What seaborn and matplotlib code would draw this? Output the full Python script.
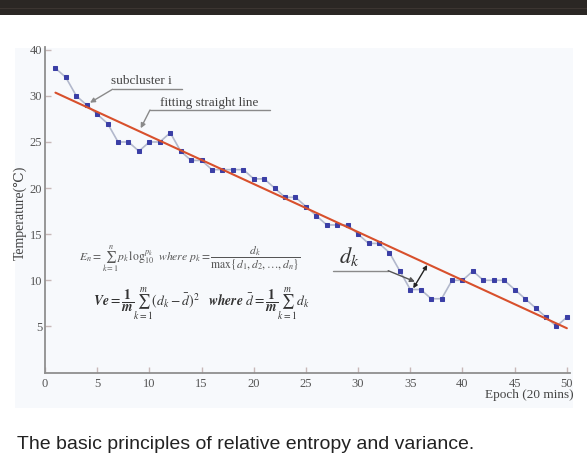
import matplotlib
matplotlib.use("Agg")
import matplotlib.pyplot as plt
from matplotlib.patches import Rectangle
import seaborn as sns
import pandas as pd

# ---------------- data ----------------
epochs = list(range(1, 51))
temperature = [33, 32, 30, 29, 28, 27, 25, 25, 24, 25,
               25, 26, 24, 23, 23, 22, 22, 22, 22, 21,
               21, 20, 19, 19, 18, 17, 16, 16, 16, 15,
               14, 14, 13, 11, 9, 9, 8, 8, 10, 10,
               11, 10, 10, 10, 9, 8, 7, 6, 5, 6]
fit_epochs = [1, 50]
fit_temperature = [30.35, 4.8]
x_ticks = [0, 5, 10, 15, 20, 25, 30, 35, 40, 45, 50]
y_ticks = [5, 10, 15, 20, 25, 30, 35]
y_tick_labels = ["5", "10", "15", "20", "25", "30", "40"]

df = pd.DataFrame({"Epoch": epochs, "Temperature": temperature})
fit_df = pd.DataFrame({"Epoch": fit_epochs, "Temperature": fit_temperature})

sns.set_style("ticks")
plt.rcParams["font.family"] = ["Liberation Serif", "DejaVu Serif"]
plt.rcParams["mathtext.fontset"] = "stix"

W, H = 587, 472
fig = plt.figure(figsize=(W / 100, H / 100), dpi=100)
fig.patch.set_facecolor("white")

def px(x0, y0, x1, y1):
    return [x0 / W, 1 - y1 / H, (x1 - x0) / W, (y1 - y0) / H]

# dark band at top and light panel
fig.add_artist(Rectangle((0, 1 - 15 / H), 1, 15 / H, transform=fig.transFigure,
                         facecolor="#2b2724", edgecolor="none", zorder=0))
fig.add_artist(Rectangle((0, 1 - 8.5 / H), 1, 1 / H, transform=fig.transFigure,
                         facecolor="#3c3531", edgecolor="none", zorder=0))
b = px(15, 48, 573, 408)
fig.add_artist(Rectangle((b[0], b[1]), b[2], b[3], transform=fig.transFigure,
                         facecolor="#f7f9fc", edgecolor="none", zorder=0))

ax = fig.add_axes(px(45, 47, 570, 372.5))
ax.set_facecolor("none")

sns.lineplot(data=df, x="Epoch", y="Temperature", ax=ax, color="#b2b8cc",
             linewidth=1.2, marker="s", markersize=2.7,
             markerfacecolor="#3b3fa6", markeredgecolor="#3b3fa6", zorder=2)
sns.lineplot(data=fit_df, x="Epoch", y="Temperature", ax=ax, color="#d8502c",
             linewidth=1.5, zorder=3)

ax.set_xlim(0, 50.3)
ax.set_ylim(0, 35.3)
ax.set_xticks(x_ticks)
ax.set_xticklabels([str(t) for t in x_ticks])
ax.set_yticks(y_ticks)
ax.set_yticklabels(y_tick_labels)
ax.tick_params(axis="x", direction="in", length=4, width=1, color="#c8b8b8",
               labelsize=9, labelcolor="#555555", pad=4)
ax.tick_params(axis="y", direction="in", length=4, width=1, color="#c8b8b8",
               labelsize=9, labelcolor="#555555", pad=2)
for s in ["top", "right"]:
    ax.spines[s].set_visible(False)
for s in ["left", "bottom"]:
    ax.spines[s].set_color("#8f8f8f")
    ax.spines[s].set_linewidth(1.3)

ax.set_xlabel("")
ax.set_ylabel("Temperature(℃)", fontsize=10, color="#444444")
ax.yaxis.set_label_coords(-0.034, 0.49)
ax.text(1.006, -0.069, "Epoch (20 mins)", transform=ax.transAxes, ha="right",
        va="center", fontsize=9.5, color="#444444")

lead = dict(color="#8a8a8a", lw=1.0)
# subcluster i
ax.plot([13.09, 6.48], [30.72, 30.72], **lead)
ax.annotate("", xy=(4.31, 29.26), xytext=(6.48, 30.72),
            arrowprops=dict(arrowstyle="-|>", color="#8a8a8a", lw=1.0,
                            mutation_scale=7, shrinkA=0, shrinkB=0))
ax.text(6.3, 31.25, "subcluster i", fontsize=9.5, color="#444444", ha="left",
        va="baseline")
# fitting straight line
ax.plot([21.55, 10.06], [28.47, 28.47], **lead)
ax.annotate("", xy=(9.17, 26.49), xytext=(10.06, 28.47),
            arrowprops=dict(arrowstyle="-|>", color="#8a8a8a", lw=1.0,
                            mutation_scale=7, shrinkA=0, shrinkB=0))
ax.text(11.0, 28.9, "fitting straight line", fontsize=9.5, color="#444444",
        ha="left", va="baseline")
# d_k
ax.plot([27.61, 32.88], [11.04, 11.04], **lead)
ax.annotate("", xy=(35.44, 9.85), xytext=(32.88, 11.04),
            arrowprops=dict(arrowstyle="-|>", color="#555555", lw=1.0,
                            mutation_scale=7, shrinkA=0, shrinkB=0))
ax.annotate("", xy=(36.62, 11.66), xytext=(35.28, 9.13),
            arrowprops=dict(arrowstyle="<|-|>", color="#222222", lw=1.0,
                            mutation_scale=6, shrinkA=0, shrinkB=0))
ax.text(28.2, 11.9, r"$d_k$", fontsize=16, color="#333333", ha="left",
        va="baseline")

# formulas
ax.text(3.3, 12.3,
        r"$E_n=\sum_{k=1}^{n}p_k\,\log_{10}^{p_k}\ \ where\ p_k=\dfrac{d_k}{\max\{d_1,d_2,\ldots,d_n\}}$",
        fontsize=8.4, color="#555555", ha="left", va="center")
ax.text(4.6, 7.4,
        r"$\mathbfit{Ve}=\dfrac{\mathbf{1}}{\mathbfit{m}}\sum_{k=1}^{m}(d_k-\bar{d})^2\ \ \ \mathbfit{where}\ \bar{d}=\dfrac{\mathbf{1}}{\mathbfit{m}}\sum_{k=1}^{m}d_k$",
        fontsize=9.8, color="#333333", ha="left", va="center")

fig.text(17 / W, 1 - 449 / H, "The basic principles of relative entropy and variance.",
         fontsize=14, color="#222222", ha="left", va="baseline",
         family=["Liberation Sans", "DejaVu Sans"])

fig.savefig("out.png", dpi=100)
